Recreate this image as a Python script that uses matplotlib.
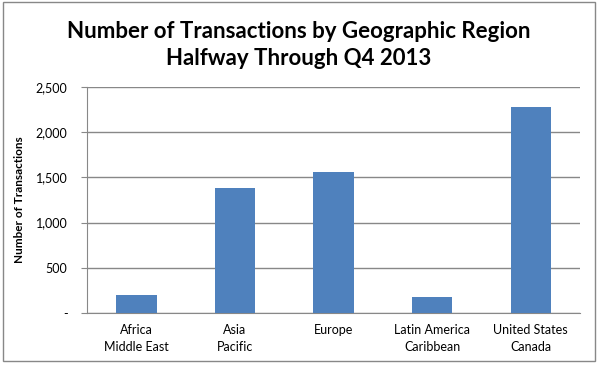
import matplotlib.pyplot as plt
from matplotlib.patches import Rectangle
from matplotlib.ticker import FuncFormatter

regions = ["Africa\nMiddle East", "Asia\nPacific", "Europe", "Latin America\nCaribbean", "United States\nCanada"]
transactions = [200, 1380, 1560, 180, 2275]
y_ticks = [0, 500, 1000, 1500, 2000, 2500]

plt.rcParams['font.family'] = ['Lato', 'DejaVu Sans']

fig = plt.figure(figsize=(5.98, 3.66), dpi=100)
ax = fig.add_axes([0.1455, 0.1448, 0.8245, 0.6175])

# outer chart border
fig.patches.append(Rectangle((0.005, 0.015), 0.99, 0.98, transform=fig.transFigure,
                             fill=False, edgecolor='#888888', linewidth=1.0))

x = range(len(regions))
ax.bar(x, transactions, width=0.41, color='#4f81bd', zorder=3)

ax.set_xlim(-0.5, len(regions) - 0.5)
ax.set_ylim(0, 2500)
ax.set_yticks(y_ticks)
ax.yaxis.set_major_formatter(FuncFormatter(lambda v, p: '-' if v == 0 else f'{int(v):,}'))
ax.set_xticks(list(x))
ax.set_xticklabels(regions, fontsize=9, linespacing=1.45)
ax.tick_params(axis='x', length=0, pad=8)
ax.tick_params(axis='y', length=4, color='#888888', labelsize=9, pad=10)

ax.grid(axis='y', color='#888888', linewidth=1.0, zorder=0)
for side in ['top', 'right']:
    ax.spines[side].set_visible(False)
ax.spines['left'].set_color('#888888')
ax.spines['bottom'].set_color('#888888')

ax.set_ylabel('Number of Transactions', fontsize=8.5, fontweight='bold', labelpad=8)

fig.text(0.5, 0.915, 'Number of Transactions by Geographic Region', ha='center', va='center',
         fontsize=16, fontweight='bold')
fig.text(0.5, 0.84, 'Halfway Through Q4 2013', ha='center', va='center',
         fontsize=16, fontweight='bold')

fig.savefig('out.png', dpi=100)
